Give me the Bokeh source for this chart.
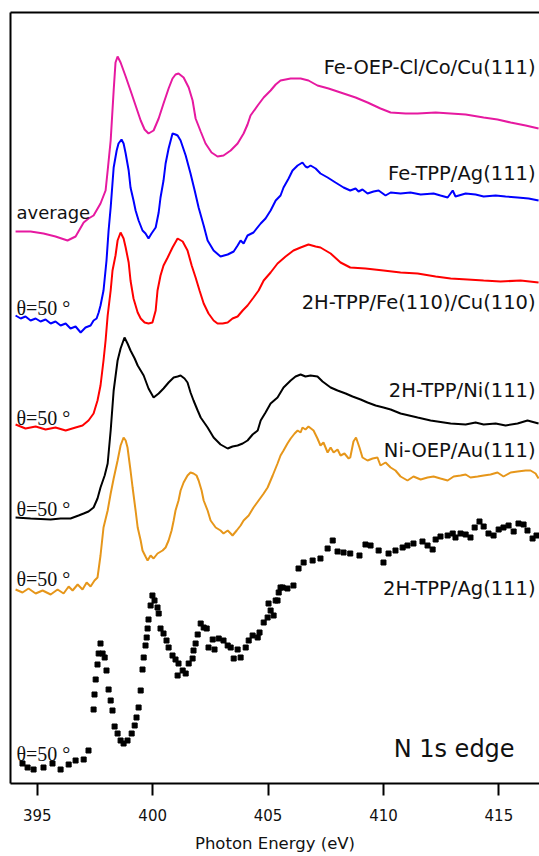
from bokeh.plotting import figure
from bokeh.models import Range1d, FixedTicker, LinearAxis, ColumnDataSource
from bokeh.core.properties import value
from bokeh.embed import file_html
from bokeh.resources import INLINE

# ---------------- data (energy in eV, intensity in arbitrary offset units) ----------------
feoep_x = [394.06, 394.71, 395.27, 395.79, 396.31, 396.66, 397.01, 397.22, 397.44, 397.74, 397.96, 398.05,
           398.18, 398.31, 398.39, 398.48, 398.61, 398.83, 399.04, 399.26, 399.48, 399.65, 399.82, 400.04,
           400.26, 400.47, 400.69, 400.86, 400.99, 401.12, 401.34, 401.56, 401.73, 401.86, 402.08, 402.29,
           402.55, 402.81, 403.07, 403.38, 403.68, 403.94, 404.11, 404.24, 404.55, 404.81, 405.11, 405.33,
           405.54, 405.98, 406.41, 406.75, 407.14, 407.62, 408.14, 408.79, 409.31, 409.87, 410.31, 410.96,
           411.48, 412.26, 412.91, 413.56, 414.34, 414.94, 415.51, 416.16, 416.72]
feoep_y = [552, 552, 550, 547, 543, 547, 561, 565, 568, 580, 593, 613,
           643, 693, 721, 727, 721, 707, 693, 678, 663, 654, 650, 653,
           665, 680, 695, 705, 709, 710, 706, 696, 683, 665, 652, 640,
           631, 627, 628, 633, 640, 650, 659, 668, 678, 686, 693, 699,
           703, 705, 705, 703, 698, 695, 691, 686, 681, 675, 671, 670,
           670, 671, 670, 669, 666, 664, 661, 658, 655]

fetpp_x = [394.06, 394.28, 394.49, 394.71, 394.93, 395.14, 395.36, 395.58, 395.79, 396.01, 396.23, 396.44,
           396.66, 396.88, 397.09, 397.31, 397.44, 397.57, 397.66, 397.74, 397.87, 398.00, 398.09, 398.18,
           398.31, 398.44, 398.52, 398.65, 398.74, 398.83, 398.96, 399.04, 399.17, 399.26, 399.39, 399.56,
           399.69, 399.82, 399.95, 400.13, 400.26, 400.34, 400.47, 400.56, 400.69, 400.86, 400.99, 401.08,
           401.21, 401.43, 401.64, 401.82, 401.99, 402.21, 402.38, 402.64, 402.94, 403.25, 403.51, 403.68,
           403.81, 403.94, 404.11, 404.37, 404.68, 404.89, 405.11, 405.33, 405.54, 405.67, 405.89, 406.06,
           406.28, 406.49, 406.62, 406.71, 406.84, 407.06, 407.27, 407.58, 407.92, 408.27, 408.56, 408.79,
           408.92, 409.09, 409.31, 409.57, 409.79, 410.09, 410.31, 410.74, 411.17, 411.61, 412.17, 412.47,
           412.78, 413.00, 413.12, 413.56, 413.99, 414.34, 414.86, 415.29, 415.81, 416.29, 416.72]
fetpp_y = [468, 465, 467, 463, 465, 462, 464, 460, 462, 458, 460, 455,
           457, 451, 456, 458, 463, 465, 471, 478, 493, 523, 553, 576,
           616, 633, 640, 644, 640, 630, 613, 596, 583, 573, 563, 553,
           550, 545, 550, 556, 571, 586, 603, 620, 635, 650, 649, 648,
           643, 628, 610, 593, 576, 558, 543, 533, 527, 529, 532, 538,
           543, 540, 548, 551, 560, 565, 573, 583, 588, 596, 605, 613,
           618, 621, 617, 616, 618, 615, 610, 606, 601, 596, 593, 595,
           592, 594, 590, 592, 593, 588, 591, 590, 591, 589, 590, 588,
           586, 593, 587, 590, 589, 587, 588, 587, 586, 585, 583]

h2fe_x = [394.06, 394.49, 394.93, 395.36, 395.79, 396.23, 396.66, 396.96, 397.22, 397.44, 397.61, 397.74,
          397.87, 397.96, 398.05, 398.18, 398.26, 398.39, 398.48, 398.61, 398.74, 398.83, 398.96, 399.04,
          399.17, 399.35, 399.48, 399.65, 399.82, 399.99, 400.13, 400.21, 400.34, 400.47, 400.65, 400.86,
          401.08, 401.30, 401.51, 401.69, 401.86, 402.03, 402.21, 402.42, 402.64, 402.81, 403.03, 403.25,
          403.46, 403.68, 403.90, 404.11, 404.37, 404.59, 404.81, 405.11, 405.41, 405.76, 406.10, 406.41,
          406.75, 407.06, 407.27, 407.49, 407.71, 408.14, 408.56, 409.22, 410.00, 410.74, 411.48, 412.26,
          412.91, 413.64, 414.34, 415.07, 415.94, 416.72]
h2fe_y = [359, 355, 357, 354, 356, 353, 356, 358, 363, 370, 383, 398,
          423, 443, 468, 493, 513, 528, 543, 551, 545, 536, 521, 503,
          485, 471, 465, 461, 460, 461, 473, 493, 508, 518, 526, 536,
          545, 542, 533, 518, 506, 493, 480, 470, 463, 460, 460, 461,
          465, 467, 473, 478, 486, 493, 503, 511, 520, 527, 533, 536,
          539, 537, 536, 533, 530, 521, 516, 515, 513, 511, 510, 507,
          505, 504, 503, 502, 503, 501]

h2ni_x = [394.06, 394.71, 395.58, 396.01, 396.44, 396.79, 397.01, 397.22, 397.44, 397.61, 397.74, 397.92,
          398.05, 398.18, 398.31, 398.48, 398.61, 398.78, 398.91, 399.04, 399.22, 399.35, 399.48, 399.61,
          399.82, 400.04, 400.26, 400.47, 400.69, 400.91, 401.08, 401.21, 401.38, 401.51, 401.64, 401.77,
          401.95, 402.08, 402.38, 402.64, 402.94, 403.25, 403.46, 403.68, 403.90, 404.11, 404.33, 404.55,
          404.68, 404.89, 405.11, 405.41, 405.67, 405.98, 406.19, 406.41, 406.62, 406.84, 407.14, 407.36,
          407.71, 408.01, 408.36, 408.66, 409.01, 409.31, 409.66, 410.00, 410.31, 410.74, 411.48, 412.04,
          412.91, 413.56, 413.99, 414.34, 414.86, 415.29, 415.81, 416.24, 416.72]
h2ni_y = [266, 265, 264, 265, 265, 268, 270, 272, 276, 285, 296, 308,
          320, 353, 393, 423, 435, 446, 440, 433, 425, 418, 413, 408,
          395, 386, 390, 395, 401, 406, 407, 408, 405, 401, 391, 383,
          373, 366, 356, 346, 339, 335, 337, 338, 340, 343, 349, 353,
          363, 371, 380, 386, 396, 403, 407, 409, 407, 408, 407, 402,
          396, 393, 390, 387, 384, 381, 378, 376, 374, 370, 366, 363,
          360, 359, 361, 359, 360, 358, 360, 363, 360]

nioep_x = [394.06, 394.36, 394.62, 394.93, 395.23, 395.58, 395.88, 396.14, 396.36, 396.53, 396.75, 396.96,
           397.14, 397.31, 397.48, 397.61, 397.74, 397.87, 398.05, 398.18, 398.31, 398.48, 398.61, 398.74,
           398.83, 398.91, 399.04, 399.13, 399.26, 399.35, 399.48, 399.56, 399.69, 399.78, 399.91, 400.04,
           400.21, 400.43, 400.56, 400.69, 400.82, 400.91, 400.99, 401.12, 401.21, 401.34, 401.51, 401.64,
           401.77, 401.90, 401.99, 402.12, 402.21, 402.38, 402.51, 402.73, 402.94, 403.07, 403.25, 403.38,
           403.46, 403.64, 403.81, 403.94, 404.16, 404.37, 404.59, 404.81, 404.98, 405.20, 405.41, 405.54,
           405.67, 405.84, 405.98, 406.15, 406.28, 406.41, 406.49, 406.62, 406.75, 406.97, 407.14, 407.27,
           407.40, 407.58, 407.71, 407.84, 408.01, 408.14, 408.31, 408.49, 408.56, 408.70, 408.81, 408.96,
           409.09, 409.31, 409.53, 409.74, 409.87, 410.09, 410.31, 410.52, 410.74, 411.04, 411.30, 411.61,
           411.91, 412.17, 412.47, 412.78, 413.04, 413.34, 413.56, 413.77, 414.08, 414.34, 414.64, 414.94,
           415.20, 415.51, 415.81, 416.16, 416.37, 416.59, 416.72]
nioep_y = [194, 191, 195, 190, 193, 189, 194, 190, 197, 193, 199, 194,
           201, 197, 203, 206, 228, 256, 273, 290, 305, 323, 338, 346,
           343, 336, 313, 296, 273, 256, 243, 233, 227, 223, 228, 225,
           230, 233, 236, 243, 253, 263, 273, 283, 293, 301, 308, 311,
           310, 308, 303, 293, 283, 273, 263, 256, 253, 250, 253, 250,
           248, 253, 258, 263, 268, 276, 283, 290, 296, 308, 320, 328,
           333, 340, 345, 350, 353, 351, 356, 354, 357, 353, 345, 338,
           341, 331, 336, 331, 334, 328, 330, 325, 326, 342, 346, 336,
           326, 323, 325, 326, 318, 321, 316, 313, 307, 303, 307, 304,
           306, 307, 305, 303, 307, 308, 309, 306, 307, 308, 309, 311,
           307, 311, 312, 313, 313, 310, 305]

h2ag_x = [394.36, 394.58, 394.84, 395.27, 395.66, 396.01, 396.36, 396.66, 397.01, 397.22,
          397.44, 397.48, 397.53, 397.61, 397.66, 397.74, 397.83, 397.92, 398.00, 398.09, 398.18, 398.26,
          398.35, 398.48, 398.61, 398.74, 398.91, 399.09, 399.22, 399.30, 399.39, 399.48, 399.56, 399.61,
          399.69, 399.74, 399.78, 399.82, 399.91, 399.99, 400.08, 400.21, 400.26, 400.34, 400.47, 400.60,
          400.69, 400.86, 400.99, 401.12, 401.08, 401.30, 401.43, 401.56, 401.73, 401.77, 401.86, 401.95,
          402.08, 402.21, 402.34, 402.42, 402.60, 402.68, 402.86, 403.07, 403.25, 403.38, 403.51, 403.68,
          403.81, 404.03, 404.16, 404.33, 404.55, 404.63, 404.81, 404.98, 405.02, 405.11, 405.24, 405.33,
          405.41, 405.46, 405.54, 405.63, 405.84, 406.10, 406.32, 406.54, 406.93, 407.27, 407.58, 407.80,
          408.01, 408.27, 408.56, 408.96, 409.22, 409.44, 409.79, 410.00, 410.22, 410.52, 410.83, 411.04,
          411.30, 411.69, 411.91, 412.13, 412.26, 412.47, 412.78, 413.00, 413.12, 413.34, 413.56, 413.77,
          413.95, 414.16, 414.34, 414.55, 414.77, 414.99, 415.20, 415.42, 415.64, 415.85, 416.07, 416.24,
          416.46, 416.63]
h2ag_y = [20, 16, 14, 16, 20, 14, 19, 23, 24, 33,
          74, 89, 104, 119, 130, 140, 130, 126, 113, 94, 83, 73,
          57, 50, 43, 40, 43, 50, 58, 66, 76, 93, 114, 126,
          138, 146, 155, 164, 178, 188, 183, 176, 170, 155, 150, 143,
          136, 128, 124, 120, 108, 113, 110, 120, 125, 133, 140, 149,
          160, 156, 155, 136, 144, 134, 145, 143, 138, 136, 125, 134,
          126, 136, 143, 148, 146, 151, 161, 166, 180, 173, 168, 183,
          183, 191, 196, 196, 195, 198, 215, 221, 223, 225, 235, 243,
          232, 231, 230, 228, 239, 238, 233, 221, 230, 233, 236, 238,
          240, 242, 238, 234, 244, 247, 248, 250, 246, 250, 249, 246,
          256, 262, 257, 250, 248, 254, 256, 258, 252, 260, 259, 253,
          245, 248]

# curve labels (right aligned) and left annotations
curve_labels = ["Fe-OEP-Cl/Co/Cu(111)", "Fe-TPP/Ag(111)", "2H-TPP/Fe(110)/Cu(110)",
                "2H-TPP/Ni(111)", "Ni-OEP/Au(111)", "2H-TPP/Ag(111)"]
curve_label_y = [716, 610, 481, 393, 333, 195]
theta_labels = ["θ=50 °", "θ=50 °", "θ=50 °", "θ=50 °", "θ=50 °"]
theta_label_y = [476, 366, 275, 205, 30]
x_ticks = [395, 400, 405, 410, 415]

MAGENTA = "#e619a0"
BLUE = "#0000ff"
RED = "#ff0000"
BLACK = "#000000"
ORANGE = "#e6961a"

p = figure(width=539, height=856, output_backend="svg", toolbar_location=None,
           x_range=Range1d(393.84, 416.76), y_range=Range1d(0, 771),
           min_border_left=10, min_border_right=0, min_border_top=12, min_border_bottom=73)
p.background_fill_color = "white"
p.border_fill_color = "white"
p.outline_line_color = None
p.grid.visible = False

lw = 2
p.line(feoep_x, feoep_y, color=MAGENTA, line_width=lw)
p.line(fetpp_x, fetpp_y, color=BLUE, line_width=lw)
p.line(h2fe_x, h2fe_y, color=RED, line_width=lw)
p.line(h2ni_x, h2ni_y, color=BLACK, line_width=lw)
p.line(nioep_x, nioep_y, color=ORANGE, line_width=lw)
p.scatter(h2ag_x, h2ag_y, marker="square", size=5, color=BLACK)

lab_src = ColumnDataSource(dict(x=[416.59] * len(curve_labels), y=curve_label_y, text=curve_labels))
p.text(x="x", y="y", text="text", source=lab_src, text_align="right", text_baseline="middle",
       text_font=value("DejaVu Sans"), text_font_size="19.5px", text_color="#111111")

th_src = ColumnDataSource(dict(x=[394.10] * len(theta_labels), y=theta_label_y, text=theta_labels))
p.text(x="x", y="y", text="text", source=th_src, text_align="left", text_baseline="alphabetic",
       text_font=value("Liberation Serif"), text_font_size="20px", text_color="#111111")

p.text(x=[394.10], y=[571], text=["average"], text_align="left", text_baseline="alphabetic",
       text_font=value("DejaVu Sans"), text_font_size="18px", text_color="#111111")
p.text(x=[410.44], y=[35], text=["N 1s edge"], text_align="left", text_baseline="alphabetic",
       text_font=value("DejaVu Sans"), text_font_size="24px", text_color="#111111")

# bottom axis
xa = p.xaxis[0]
xa.ticker = FixedTicker(ticks=x_ticks)
xa.minor_tick_line_color = None
xa.major_tick_in = 0
xa.major_tick_out = 12
xa.major_tick_line_width = 2
xa.axis_line_width = 2
xa.major_label_text_font = "DejaVu Sans"
xa.major_label_text_font_size = "15px"
xa.major_label_text_color = "#111111"
xa.major_label_standoff = 13
xa.axis_label = "Photon Energy (eV)"
xa.axis_label_text_font = "DejaVu Sans"
xa.axis_label_text_font_size = "16.5px"
xa.axis_label_text_font_style = "normal"
xa.axis_label_text_color = "#111111"
xa.axis_label_standoff = 10

# left axis: line only, no ticks or labels
ya = p.yaxis[0]
ya.ticker = FixedTicker(ticks=[])
ya.major_tick_line_color = None
ya.minor_tick_line_color = None
ya.major_label_standoff = 0
ya.major_tick_out = 0
ya.major_tick_in = 0
ya.axis_line_width = 2

# top border as an axis line
top = LinearAxis(ticker=FixedTicker(ticks=[]), axis_line_width=2,
                 major_tick_line_color=None, minor_tick_line_color=None,
                 major_tick_out=0, major_tick_in=0, major_label_standoff=0)
p.add_layout(top, "above")

open("out.html", "w").write(file_html(p, INLINE))
